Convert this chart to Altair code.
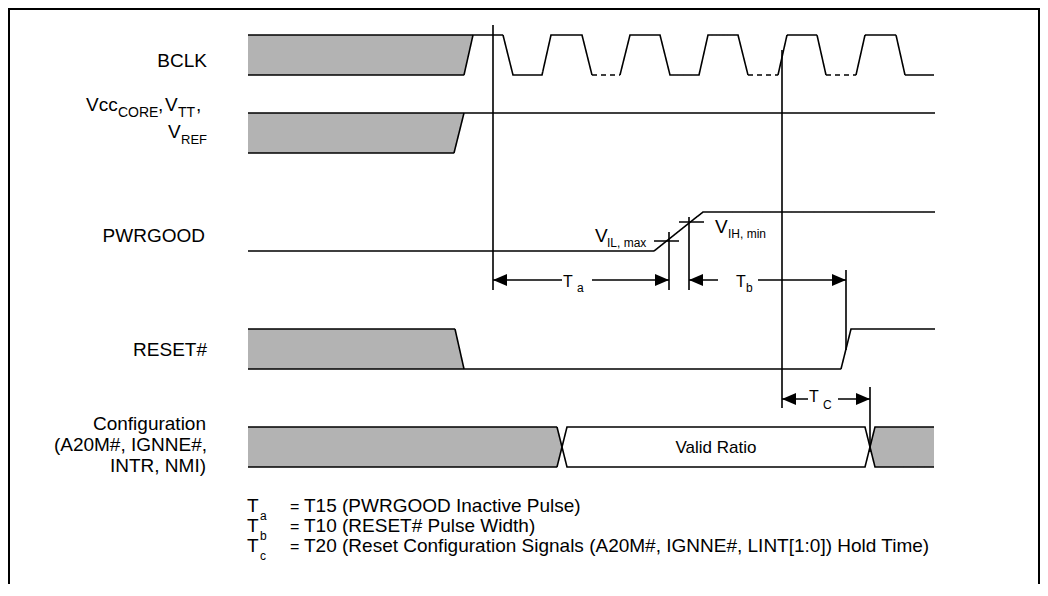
import altair as alt
import pandas as pd

FONT = "Liberation Sans"
GRAY = "#b3b3b3"
INK = "#000000"

# ---------------- waveform vertices (time axis x, level axis y, page units) ----------------
seg_names = [
    "bclk_a", "bclk_dash1", "bclk_b", "bclk_dash2", "bclk_c", "bclk_dash3", "bclk_d", "bclk_gray",
    "vcc_top", "vcc_gray",
    "pwrgood", "vil_tick", "vil_mark", "vih_tick", "vih_mark",
    "ref_a", "ref_clk", "ref_reset", "ref_cfg",
    "reset_gray", "reset",
    "cfg_upper", "cfg_lower",
]
seg_styles = [
    "solid", "dashed", "solid", "dashed", "solid", "dashed", "solid", "solid",
    "solid", "solid",
    "solid", "solid", "solid", "solid", "solid",
    "solid", "solid", "solid", "solid",
    "solid", "solid",
    "solid", "solid",
]
seg_x = [
    [248, 503, 513, 542, 551, 582, 592],
    [592, 620],
    [620, 630, 660, 670, 699, 708, 738, 748],
    [748, 778],
    [778, 787, 817, 826],
    [826, 856],
    [856, 865, 896, 905, 934],
    [248, 464, 473],
    [248, 935],
    [248, 454, 464],
    [248, 654, 703, 935],
    [654, 679],
    [669, 669],
    [679, 704],
    [689, 689],
    [493, 493],
    [782, 782],
    [846, 846],
    [870, 870],
    [248, 455, 464],
    [248, 841, 851, 935],
    [248, 557, 567, 865, 875, 934],
    [248, 557, 567, 865, 875, 934],
]
seg_y = [
    [35, 35, 75, 75, 35, 35, 75],
    [75, 75],
    [75, 35, 35, 75, 75, 35, 35, 75],
    [75, 75],
    [75, 35, 35, 75],
    [75, 75],
    [75, 35, 35, 75, 75],
    [75, 75, 35],
    [113, 113],
    [153, 153, 113],
    [251, 251, 212, 212],
    [241, 241],
    [232, 290],
    [222, 222],
    [217, 290],
    [25, 290],
    [50, 408],
    [270, 350],
    [387, 452],
    [329, 329, 369],
    [369, 369, 329, 329],
    [427, 427, 467, 467, 427, 427],
    [467, 467, 427, 427, 467, 467],
]

# gray (undefined-state) regions: x, upper edge, lower edge
fill_names = ["bclk", "vcc", "reset", "cfg_left", "cfg_right"]
fill_x = [[248, 464, 473], [248, 454, 464], [248, 455, 464], [248, 557, 562], [870, 875, 934]]
fill_top = [[35, 35, 35], [113, 113, 113], [329, 329, 369], [427, 427, 447], [447, 427, 427]]
fill_bot = [[75, 75, 35], [153, 153, 113], [369, 369, 369], [467, 467, 447], [447, 467, 467]]

# timing arrows: name, start, end, level, label gap start, label gap end
arrow_names = ["Ta", "Tb", "Tc"]
arrow_x0 = [493, 689, 782]
arrow_x1 = [669, 846, 870]
arrow_y = [280, 280, 399]
arrow_gap0 = [562, 718, 808]
arrow_gap1 = [592, 758, 838]

# frame
frame_x = [9, 9, 1039, 1039]
frame_y = [584, 9, 9, 584]

# ---------------- texts ----------------
right_texts = ["BCLK", "PWRGOOD", "RESET#", "Configuration", "(A20M#, IGNNE#,", "INTR, NMI)", "REF"]
right_x = [207, 205, 207, 206, 207, 206, 207]
right_y = [67, 242, 356, 430, 451, 472, 144]
right_size = [19, 19, 19, 19, 19, 19, 13]

left_texts = ["Vcc", "CORE", ",", "V", "TT", ",", "V",
              "V", "IL, max", "V", "IH, min",
              "T", "a", "T", "b", "T", "C",
              "T", "a", "=", "T15 (PWRGOOD Inactive Pulse)",
              "T", "b", "=", "T10 (RESET# Pulse Width)",
              "T", "c", "=", "T20 (Reset Configuration Signals (A20M#, IGNNE#, LINT[1:0]) Hold Time)"]
left_x = [86, 118, 158, 165, 178, 196, 168,
          595, 607, 715, 728,
          563, 577, 736, 746, 809, 823,
          247, 260, 290, 304,
          247, 260, 290, 304,
          247, 260, 290, 304]
left_y = [111, 117, 111, 111, 117, 111, 138,
          242, 247, 233, 238,
          287, 292, 287, 292, 402, 409,
          512, 520, 512, 512,
          532, 540, 532, 532,
          552, 560, 552, 552]
left_size = [19, 14, 19, 19, 14, 19, 19,
             19, 12, 19, 12,
             16, 12, 16, 12, 16, 12,
             19, 12, 16, 19,
             19, 12, 16, 19,
             19, 12, 16, 19]

center_texts = ["Valid Ratio"]
center_x = [716]
center_y = [453]
center_size = [17]

# ---------------- build tables ----------------
HEAD_LEN = 14
HEAD_HALF = 6

line_rows = []
for name, style, xs, ys in zip(seg_names, seg_styles, seg_x, seg_y):
    for i, (x, y) in enumerate(zip(xs, ys)):
        line_rows.append({"seg": name, "i": i, "x": x, "y": y, "style": style})
for n, x0, x1, y, g0, g1 in zip(arrow_names, arrow_x0, arrow_x1, arrow_y, arrow_gap0, arrow_gap1):
    line_rows += [
        {"seg": n + "_l", "i": 0, "x": x0, "y": y, "style": "solid"},
        {"seg": n + "_l", "i": 1, "x": g0, "y": y, "style": "solid"},
        {"seg": n + "_r", "i": 0, "x": g1, "y": y, "style": "solid"},
        {"seg": n + "_r", "i": 1, "x": x1, "y": y, "style": "solid"},
    ]
lines_df = pd.DataFrame(line_rows)

area_rows = []
for name, xs, ts, bs in zip(fill_names, fill_x, fill_top, fill_bot):
    for x, t, b in zip(xs, ts, bs):
        area_rows.append({"shape": name, "x": x, "y": t, "y2": b, "fill": GRAY})
for n, x0, x1, y in zip(arrow_names, arrow_x0, arrow_x1, arrow_y):
    area_rows += [
        {"shape": n + "_hl", "x": x0, "y": y, "y2": y, "fill": INK},
        {"shape": n + "_hl", "x": x0 + HEAD_LEN, "y": y - HEAD_HALF, "y2": y + HEAD_HALF, "fill": INK},
        {"shape": n + "_hr", "x": x1 - HEAD_LEN, "y": y - HEAD_HALF, "y2": y + HEAD_HALF, "fill": INK},
        {"shape": n + "_hr", "x": x1, "y": y, "y2": y, "fill": INK},
    ]
areas_df = pd.DataFrame(area_rows)

frame_df = pd.DataFrame({"i": range(len(frame_x)), "x": frame_x, "y": frame_y})

right_df = pd.DataFrame({"t": right_texts, "x": right_x, "y": right_y, "s": right_size})
left_df = pd.DataFrame({"t": left_texts, "x": left_x, "y": left_y, "s": left_size})
center_df = pd.DataFrame({"t": center_texts, "x": center_x, "y": center_y, "s": center_size})

W, H = 1032, 576
xs = alt.Scale(domain=[8, 8 + W], nice=False, zero=False)
ys = alt.Scale(domain=[8, 8 + H], nice=False, zero=False, reverse=True)

X = alt.X("x:Q", scale=xs, axis=None)
Y = alt.Y("y:Q", scale=ys, axis=None)

areas = alt.Chart(areas_df).mark_area(interpolate="linear", orient="vertical", strokeWidth=0).encode(
    x=X,
    y=alt.Y("y:Q", scale=ys, axis=None, stack=None),
    y2="y2:Q",
    detail="shape:N",
    color=alt.Color("fill:N", scale=None),
)

lines = alt.Chart(lines_df).mark_line(color=INK, strokeWidth=1.6, strokeCap="butt").encode(
    x=X,
    y=Y,
    detail="seg:N",
    order="i:Q",
    strokeDash=alt.StrokeDash(
        "style:N",
        scale=alt.Scale(domain=["solid", "dashed"], range=[[1, 0], [5, 4]]),
        legend=None,
    ),
)

frame = alt.Chart(frame_df).mark_line(color=INK, strokeWidth=2).encode(x=X, y=Y, order="i:Q")


def text_layer(df, align):
    return alt.Chart(df).mark_text(
        align=align, baseline="alphabetic", font=FONT, color=INK
    ).encode(x=X, y=Y, text="t:N", size=alt.Size("s:Q", scale=None, legend=None))


chart = alt.layer(
    areas,
    lines,
    frame,
    text_layer(right_df, "right"),
    text_layer(left_df, "left"),
    text_layer(center_df, "center"),
).properties(
    width=W, height=H, padding=0, autosize="none", background="white"
).configure_view(strokeWidth=0)

chart.save("out.html", embed_options={"renderer": "svg", "actions": False})
